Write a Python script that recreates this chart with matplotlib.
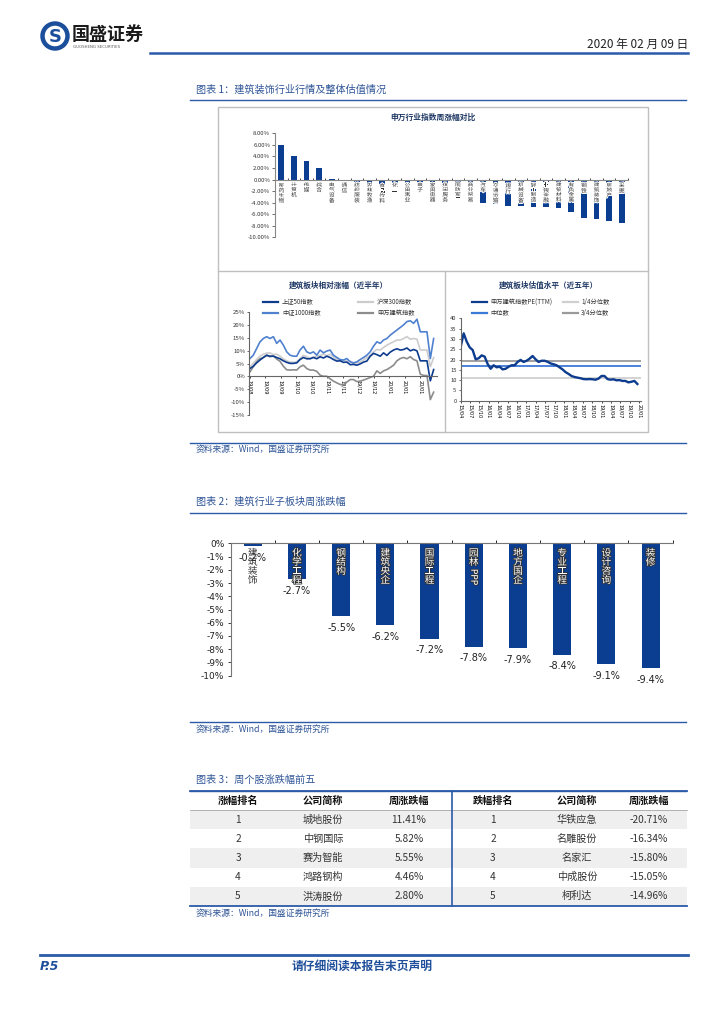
import numpy as np
import matplotlib
matplotlib.use('Agg')
import matplotlib.pyplot as plt
import matplotlib.patheffects as pe
from matplotlib.patches import Rectangle, Circle
from matplotlib.ticker import FuncFormatter

plt.rcParams['font.family'] = ['Noto Sans CJK SC', 'DejaVu Sans']
plt.rcParams['axes.unicode_minus'] = False

W, H = 724, 1024

# 图表1 上：申万行业指数周涨幅（%）
industries = ['医药生物', '计算机', '传媒', '综合', '电气设备', '通信', '纺织服装', '农林牧渔',
              '食品饮料', '化工', '公用事业', '电子', '家用电器', '休闲服务', '国防军工', '商业贸易',
              '汽车', '交通运输', '银行', '机械设备', '轻工制造', '非银金融', '建筑材料', '有色金属',
              '钢铁', '建筑装饰', '房地产', '采掘']
industry_chg = [6.0, 4.15, 3.25, 2.0, 0.15, -0.3, -0.35, -0.8, -0.85, -0.9, -1.0, -1.1, -1.2, -1.4,
                -1.6, -2.0, -4.0, -4.2, -4.5, -4.6, -4.7, -4.8, -4.9, -5.7, -6.6, -6.9, -7.1, -7.6]

# 图表1 左下：建筑板块相对涨幅（近半年，%）
rel_ticks = ['19/08', '19/09', '19/09', '19/10', '19/10', '19/11', '19/11', '19/12', '19/12',
             '20/01', '20/01', '20/01']
sz50 = [3.1, 4.0, 5.3, 6.4, 7.4, 8.3, 7.9, 7.9, 7.4, 6.9, 6.1, 5.5, 5.1, 5.1, 5.3, 6.6, 7.4, 6.9,
        6.9, 7.4, 6.9, 7.7, 7.2, 7.9, 7.4, 6.6, 6.0, 6.1, 5.5, 5.6, 4.6, 4.7, 4.4, 4.9, 5.6, 6.0,
        7.9, 9.0, 8.5, 7.9, 9.2, 8.2, 9.5, 10.3, 10.8, 10.3, 10.5, 11.1, 10.0, 10.5, 10.0, 6.1,
        6.1, 6.1, -1.7, 2.7]
hs300 = [3.8, 5.1, 6.6, 7.9, 8.7, 9.1, 9.2, 8.5, 8.7, 7.9, 6.8, 6.1, 5.6, 5.5, 5.7, 7.0, 8.2, 7.7,
         7.0, 7.6, 7.8, 8.2, 8.7, 8.1, 8.7, 7.6, 6.6, 6.4, 6.4, 5.9, 6.0, 5.2, 5.3, 5.6, 6.4, 7.4,
         8.2, 9.6, 10.5, 10.3, 11.3, 12.2, 12.9, 13.5, 14.2, 14.2, 14.8, 15.5, 14.5, 14.8, 14.5,
         10.3, 10.3, 10.3, 3.8, 7.4]
zz1000 = [7.0, 8.3, 10.9, 13.5, 14.8, 15.5, 14.8, 15.5, 12.9, 14.2, 12.2, 9.6, 8.3, 7.9, 7.9, 10.3,
          11.8, 9.6, 9.0, 9.6, 8.3, 10.3, 9.2, 9.9, 10.3, 8.3, 7.4, 6.6, 6.4, 7.0, 5.7, 5.3, 5.7,
          6.6, 7.4, 8.3, 9.6, 11.8, 13.5, 12.9, 14.2, 14.8, 16.1, 17.1, 18.1, 19.1, 20.1, 21.4,
          21.7, 20.7, 22.3, 17.4, 17.4, 17.4, 7.0, 14.8]
sw_build = [1.8, 3.8, 6.1, 6.9, 7.4, 8.2, 7.7, 8.1, 6.8, 5.9, 4.0, 2.6, 2.5, 2.6, 2.5, 3.8, 4.4, 3.1,
            2.5, 2.5, 2.0, 0.5, 0.1, 0.1, -0.9, -1.8, -2.5, -3.1, -3.3, -2.2, -1.2, -1.2, -2.0,
            -1.8, -1.4, -0.9, -0.4, 0.1, 2.2, 1.2, 2.2, 2.7, 3.5, 4.4, 6.1, 7.0, 7.4, 6.9, 7.7,
            6.6, 6.1, 0.9, 0.4, 0.4, -9.0, -6.1]

# 图表1 右下：建筑板块估值水平（近五年，PE TTM）
pe_ticks = ['15/04', '15/07', '15/10', '16/01', '16/04', '16/07', '16/10', '17/01', '17/04',
            '17/07', '17/10', '18/01', '18/04', '18/07', '18/10', '19/01', '19/04', '19/07',
            '19/10', '20/01']
pe_ttm = [26.2, 32.7, 28.7, 25.9, 24.6, 20.1, 20.6, 22.0, 21.4, 17.8, 15.5, 17.2, 16.2, 16.5,
          15.2, 15.5, 16.5, 17.2, 17.2, 18.8, 19.8, 18.8, 19.4, 20.4, 21.7, 20.1, 18.8, 19.4,
          19.4, 18.9, 18.1, 17.7, 17.2, 16.2, 15.2, 13.9, 13.0, 12.0, 11.5, 11.2, 10.9, 10.5,
          10.4, 10.5, 10.4, 10.2, 10.7, 12.0, 12.0, 10.5, 10.2, 10.4, 9.9, 10.0, 9.6, 9.6, 8.9,
          9.2, 9.6, 8.1]
pe_q1 = 11.2
pe_med = 16.7
pe_q3 = 19.3

# 图表2：建筑行业子板块周涨跌幅（%）
sub_names = ['建筑装饰', '化学工程', '钢结构', '建筑央企', '国际工程', '园林PPP', '地方国企',
             '专业工程', '设计咨询', '装修']
sub_chg = [-0.2, -2.7, -5.5, -6.2, -7.2, -7.8, -7.9, -8.4, -9.1, -9.4]

# 图表3：周个股涨跌幅前五
rank = [1, 2, 3, 4, 5]
up_names = ['城地股份', '中钢国际', '赛为智能', '鸿路钢构', '洪涛股份']
up_chg = [11.41, 5.82, 5.55, 4.46, 2.80]
down_names = ['华铁应急', '名雕股份', '名家汇', '中成股份', '柯利达']
down_chg = [-20.71, -16.34, -15.80, -15.05, -14.96]

NAVY = '#0B3D91'
BLUE_TXT = '#2F5597'
LINE_BLUE = '#2B5BA8'


def rect(l, t, r, b):
    return [l / W, 1 - b / H, (r - l) / W, (b - t) / H]


fig = plt.figure(figsize=(W / 100, H / 100), dpi=100)

# 页面层（像素坐标）
pg = fig.add_axes([0, 0, 1, 1])
pg.set_xlim(0, W)
pg.set_ylim(H, 0)
pg.axis('off')

# 页眉
pg.add_patch(Circle((55, 36), 12.5, facecolor='white', edgecolor='#1B4F9C', lw=3.2))
pg.text(55, 36.5, 'S', ha='center', va='center', fontsize=13, fontweight='bold', color='#1B4F9C',
        family='DejaVu Sans')
pg.text(72, 34, '国盛证券', ha='left', va='center', fontsize=13, fontweight='bold', color='#1a1a1a')
pg.text(73, 47.5, 'GUOSHENG SECURITIES', ha='left', va='center', fontsize=2.8, color='#555555',
        family='DejaVu Sans')
pg.text(688, 44, '2020 年 02 月 09 日', ha='right', va='center', fontsize=8.5, color='#222222')
pg.plot([150, 688], [52.5, 52.5], color=LINE_BLUE, lw=1.8)

# 小节标题与来源
def heading(y, s, line_y):
    pg.text(196, y, s, ha='left', va='center', fontsize=7.3, color=BLUE_TXT)
    pg.plot([190, 686], [line_y, line_y], color=LINE_BLUE, lw=1)


def source(y, line_y):
    pg.plot([190, 686], [line_y, line_y], color=LINE_BLUE, lw=1)
    pg.text(196, y, '资料来源：Wind，国盛证券研究所', ha='left', va='center', fontsize=6.3,
            color=BLUE_TXT)


heading(90, '图表 1：建筑装饰行业行情及整体估值情况', 99.5)
source(449, 443)
heading(502, '图表 2：建筑行业子板块周涨跌幅', 512.5)
source(729, 722)
heading(780, '图表 3：周个股涨跌幅前五', 790.7)
pg.text(196, 913, '资料来源：Wind，国盛证券研究所', ha='left', va='center', fontsize=6.3,
        color=BLUE_TXT)

# 图表1外框
pg.add_patch(Rectangle((218, 107), 430, 325, fill=False, edgecolor='#BFBFBF', lw=1))
pg.plot([218, 648], [271, 271], color='#BFBFBF', lw=1)
pg.plot([445, 445], [271, 432], color='#BFBFBF', lw=1)

# ---- 图表1 上 ----
ax1 = fig.add_axes(rect(275, 133.3, 628, 237.3))
ax1.set_facecolor('none')
xi = np.arange(len(industries))
ax1.bar(xi, industry_chg, width=0.45, color=NAVY)
ax1.set_xlim(-0.5, len(industries) - 0.5)
ax1.set_ylim(-10, 8)
ax1.set_yticks(np.arange(-10, 9, 2))
ax1.yaxis.set_major_formatter(FuncFormatter(lambda v, p: f'{v:.2f}%'))
ax1.tick_params(axis='y', labelsize=4.3, length=2, width=0.5, pad=1.5, colors='#333333')
ax1.spines['bottom'].set_position(('data', 0))
ax1.spines[['top', 'right']].set_visible(False)
ax1.spines['left'].set_color('#888888')
ax1.spines['bottom'].set_color('#888888')
ax1.set_xticks(xi + 0.5)
ax1.tick_params(axis='x', length=1.5, width=0.5, direction='in', labelbottom=False)
halo_s = [pe.withStroke(linewidth=1.4, foreground='white')]
for i, name in enumerate(industries):
    ax1.annotate('\n'.join(name), xy=(i, 0), xytext=(0, -2.5), textcoords='offset points',
                 ha='center', va='top', fontsize=4.1, linespacing=0.92, color='#333333',
                 path_effects=halo_s)
pg.text(433, 117.5, '申万行业指数周涨幅对比', ha='center', va='center', fontsize=5.6,
        fontweight='bold', color='#1F3864')

# ---- 图表1 左下 ----
ax2 = fig.add_axes(rect(249.3, 312.3, 437, 415))
ax2.set_facecolor('none')
xr = np.arange(len(sz50))
ax2.plot(xr, sw_build, color='#8C8C8C', lw=1.2)
ax2.plot(xr, hs300, color='#CCCCCC', lw=1.2)
ax2.plot(xr, zz1000, color='#4F81CF', lw=1.2)
ax2.plot(xr, sz50, color='#0D3B8E', lw=1.2)
ax2.set_xlim(-0.2, 56)
ax2.set_ylim(-15, 25)
ax2.set_yticks(np.arange(-15, 26, 5))
ax2.yaxis.set_major_formatter(FuncFormatter(lambda v, p: f'{v:.0f}%'))
ax2.tick_params(axis='y', labelsize=4.3, length=1.5, width=0.5, pad=1.5, colors='#333333')
ax2.spines['bottom'].set_position(('data', 0))
ax2.spines[['top', 'right']].set_visible(False)
ax2.spines['left'].set_color('#666666')
ax2.spines['bottom'].set_color('#666666')
ax2.set_xticks(np.linspace(0, 51, len(rel_ticks)))
ax2.set_xticklabels(rel_ticks, rotation=270, fontsize=3.6, family='DejaVu Sans')
ax2.tick_params(axis='x', length=1.2, width=0.5, pad=1)
pg.text(338, 285, '建筑板块相对涨幅（近半年）', ha='center', va='center', fontsize=5.5,
        fontweight='bold', color='#1F3864')
leg_l = [('上证50指数', '#0D3B8E', 263, 302), ('沪深300指数', '#CCCCCC', 358, 302),
         ('中证1000指数', '#4F81CF', 263, 313), ('申万建筑指数', '#8C8C8C', 358, 313)]
for txt, c, lx, ly in leg_l:
    pg.plot([lx, lx + 15], [ly, ly], color=c, lw=1.6)
    pg.text(lx + 19, ly, txt, ha='left', va='center', fontsize=4.5, color='#333333')

# ---- 图表1 右下 ----
ax3 = fig.add_axes(rect(460.7, 318.3, 641, 400.7))
ax3.set_facecolor('none')
xp = np.arange(len(pe_ttm))
ax3.axhline(pe_q3, color='#9A9A9A', lw=1.3)
ax3.axhline(pe_med, color='#3C78D8', lw=1.3)
ax3.axhline(pe_q1, color='#D0D0D0', lw=1.3)
ax3.plot(xp, pe_ttm, color='#0D3B8E', lw=1.7)
ax3.set_xlim(0, 60.2)
ax3.set_ylim(0, 40)
ax3.set_yticks(np.arange(0, 41, 5))
ax3.tick_params(axis='y', labelsize=4.2, length=1.5, width=0.5, pad=1.5, colors='#333333')
ax3.spines[['top', 'right']].set_visible(False)
ax3.spines['left'].set_color('#666666')
ax3.spines['bottom'].set_color('#666666')
ax3.set_xticks(np.linspace(0, 59.6, len(pe_ticks)))
ax3.set_xticklabels(pe_ticks, rotation=270, fontsize=3.6, family='DejaVu Sans')
ax3.tick_params(axis='x', length=1.5, width=0.5, pad=1)
pg.text(548, 285, '建筑板块估值水平（近五年）', ha='center', va='center', fontsize=5.5,
        fontweight='bold', color='#1F3864')
leg_r = [('申万建筑指数PE(TTM)', '#0D3B8E', 472, 302.3), ('1/4分位数', '#D0D0D0', 563, 302.3),
         ('中位数', '#3C78D8', 472, 312.7), ('3/4分位数', '#9A9A9A', 563, 312.7)]
for txt, c, lx, ly in leg_r:
    pg.plot([lx, lx + 15], [ly, ly], color=c, lw=1.6)
    pg.text(lx + 18, ly, txt, ha='left', va='center', fontsize=4.5, color='#333333')

# ---- 图表2 ----
ax4 = fig.add_axes(rect(230.6, 543.3, 672.7, 675.7))
ax4.set_facecolor('none')
xs = np.arange(len(sub_names))
ax4.bar(xs, sub_chg, width=0.41, color=NAVY)
ax4.set_xlim(-0.5, len(sub_names) - 0.5)
ax4.set_ylim(-10, 0)
ax4.set_yticks(np.arange(-10, 1, 1))
ax4.yaxis.set_major_formatter(FuncFormatter(lambda v, p: f'{v:.0f}%'))
ax4.tick_params(axis='y', labelsize=6.5, length=2.5, width=0.6, pad=2, colors='#222222')
for t in ax4.get_yticklabels():
    t.set_family('DejaVu Sans')
ax4.spines[['bottom', 'right']].set_visible(False)
ax4.spines['left'].set_color('#777777')
ax4.spines['top'].set_color('#777777')
ax4.xaxis.tick_top()
ax4.set_xticks(xs + 0.5)
ax4.tick_params(axis='x', length=2.5, width=0.6, labeltop=False)
halo_dark = [pe.withStroke(linewidth=1.2, foreground='#333333')]
halo_light = [pe.withStroke(linewidth=1.8, foreground='white')]
for i, (name, v) in enumerate(zip(sub_names, sub_chg)):
    cjk = ''.join(c for c in name if not c.isascii())
    latin = ''.join(c for c in name if c.isascii())
    on_bar = v < -1
    fc = 'white' if on_bar else '#333333'
    fx = halo_dark if on_bar else halo_light
    ax4.annotate('\n'.join(cjk), xy=(i, 0), xytext=(0, -3.4), textcoords='offset points',
                 ha='center', va='top', fontsize=7, linespacing=0.88, color=fc, path_effects=fx)
    if latin:
        ax4.annotate(latin, xy=(i, 0), xytext=(0, -3.4 - len(cjk) * 7.5), textcoords='offset points',
                     ha='center', va='top', rotation=270, fontsize=6.5, color=fc,
                     family='DejaVu Sans', path_effects=fx)
    ax4.annotate(f'{v:.1f}%', xy=(i, v), xytext=(0, -8.5), textcoords='offset points',
                 ha='center', va='center', fontsize=7, color='#222222', family='DejaVu Sans')

# ---- 图表3 表格 ----
col_x = [238, 323, 409, 493, 577, 649]
headers = ['涨幅排名', '公司简称', '周涨跌幅', '跌幅排名', '公司简称', '周涨跌幅']
row_top = 810
row_h = 19.2
for cx, hd in zip(col_x, headers):
    pg.text(cx, 800.5, hd, ha='center', va='center', fontsize=7.3, fontweight='bold',
            color='#111111')
for i in range(len(rank)):
    y0 = row_top + i * row_h
    if i % 2 == 0:
        pg.add_patch(Rectangle((190, y0), 497, row_h, facecolor='#EFEFEF', lw=0))
    yc = y0 + row_h / 2
    cells = [str(rank[i]), up_names[i], f'{up_chg[i]:.2f}%',
             str(rank[i]), down_names[i], f'{down_chg[i]:.2f}%']
    for cx, s in zip(col_x, cells):
        pg.text(cx, yc, s, ha='center', va='center', fontsize=7.3, color='#333333')
pg.plot([190, 687], [790.7, 790.7], color=LINE_BLUE, lw=1.3)
pg.plot([190, 687], [810, 810], color='#A6A6A6', lw=0.6)
pg.plot([190, 687], [906, 906], color=LINE_BLUE, lw=1.3)
pg.plot([452, 452], [790.7, 906], color=LINE_BLUE, lw=1.2)

# 页脚
pg.plot([40, 688], [955, 955], color=LINE_BLUE, lw=2)
pg.text(40, 966, 'P.5', ha='left', va='center', fontsize=9, fontweight='bold', style='italic',
        color='#1F4E9A', family='DejaVu Sans')
pg.text(362, 966, '请仔细阅读本报告末页声明', ha='center', va='center', fontsize=8.5,
        fontweight='bold', color='#1F4E9A')

fig.savefig('out.png', dpi=100)
